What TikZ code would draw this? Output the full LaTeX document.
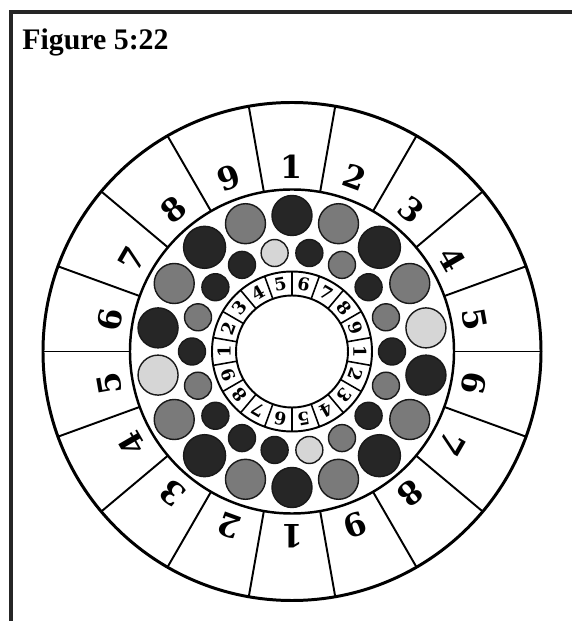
\documentclass[tikz,border=0pt]{standalone}
\usepackage{fontspec}
\usepackage{tikz}
\setmainfont{Liberation Serif}
\newfontfamily\wheelfont{DejaVu Serif}
\definecolor{balldark}{gray}{0.15}
\definecolor{ballmid}{gray}{0.48}
\definecolor{balllight}{gray}{0.84}
\tikzset{
  frameline/.style={line width=2.3pt,draw=black!85},
  rim/.style={line width=1.7pt},
  spoke/.style={line width=1.1pt},
  ringline/.style={line width=1.1pt},
  bigdigit/.style={font=\wheelfont\bfseries\fontsize{18}{18}\selectfont,inner sep=0pt},
  smalldigit/.style={font=\wheelfont\bfseries\fontsize{10}{10}\selectfont,inner sep=0pt},
  ball/.style={draw=black!90,line width=0.8pt}
}

\begin{document}
\begin{tikzpicture}[x=0.02cm,y=0.02cm]
  \useasboundingbox (-292,-269.5) rectangle (280,351.5);
  % Frame and caption.
  \draw[frameline] (-281,-269.5) -- (-281,339.5) -- (280,339.5);
  \node[anchor=base west,inner sep=0pt,font=\bfseries\fontsize{17}{17}\selectfont]
    (title) at (-270,301.5) {Figure 5:22};

  % Outer number wheel.
  \draw[rim] (0,0) circle (249);
  \draw[line width=1.4pt] (0,0) circle (162);
  \foreach \a in {0,20,...,340}
    \draw[spoke] (\a:162) -- (\a:249);
  \foreach \k in {0,...,17}{
    \pgfmathtruncatemacro\d{mod(\k,9)+1}
    \pgfmathsetmacro\ang{90-20*\k}
    \node[bigdigit,rotate=\ang-90] (w\k) at (\ang:185) {\d};
  }

  % Two rings of counters.
  \foreach \a/\c/\r in {90/balldark/20,70/ballmid/20,50/balldark/21,30/ballmid/20,
      10/balllight/20,350/balldark/20,330/ballmid/20,310/balldark/21,290/ballmid/20,
      270/balldark/20,250/ballmid/20,230/balldark/21,210/ballmid/20,190/balllight/20,
      170/balldark/20,150/ballmid/20,130/balldark/21,110/ballmid/20}
    \draw[ball,fill=\c] (\a:136) circle (\r);
  \foreach \a/\c in {100/balllight,120/balldark,140/balldark,160/ballmid,180/balldark,
      200/ballmid,220/balldark,240/balldark,260/balldark,280/balllight,300/ballmid,
      320/balldark,340/ballmid,0/balldark,20/ballmid,40/balldark,60/ballmid,80/balldark}
    \draw[ball,fill=\c] (\a:100) circle (13.5);

  % Inner number ring.
  \draw[ringline] (0,0) circle (80);
  \draw[ringline] (0,0) circle (56);
  \foreach \a in {10,30,...,350}
    \draw[line width=0.9pt] (\a:56) -- (\a:80);
  \foreach \k in {0,...,17}{
    \pgfmathtruncatemacro\d{mod(\k+4,9)+1}
    \pgfmathsetmacro\ang{100-20*\k}
    \node[smalldigit,rotate=\ang-90] (s\k) at (\ang:68) {\d};
  }
\end{tikzpicture}
\end{document}
